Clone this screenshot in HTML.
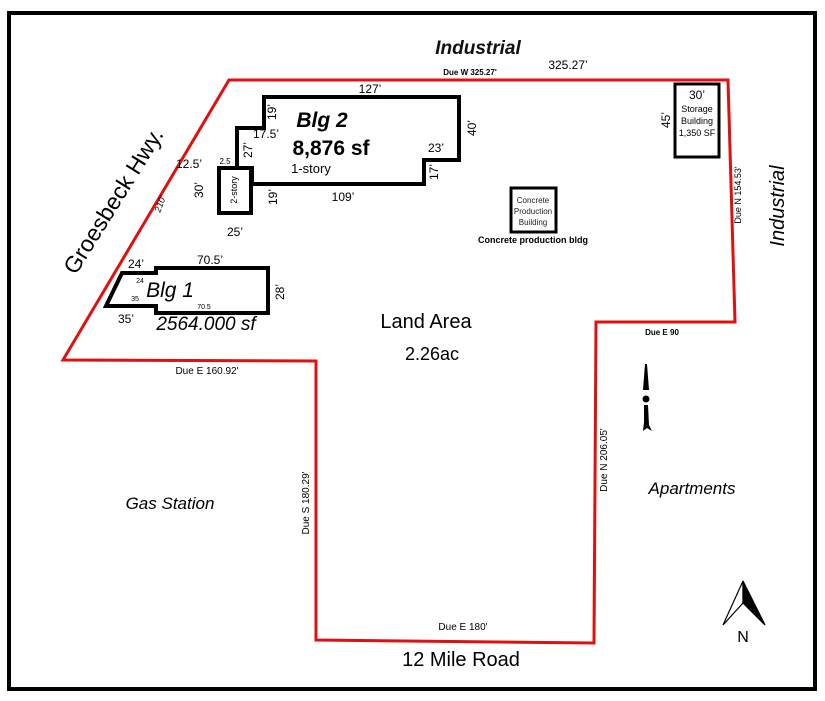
<!DOCTYPE html>
<html><head><meta charset="utf-8"><style>
html,body{margin:0;padding:0;background:#fff;}
svg{display:block;font-family:"Liberation Sans","DejaVu Sans",sans-serif;}
</style></head><body>
<svg width="825" height="701" viewBox="0 0 825 701" xmlns="http://www.w3.org/2000/svg">
<rect x="0" y="0" width="825" height="701" fill="#fff"/>
<rect x="9" y="13" width="806" height="676" fill="none" stroke="#000" stroke-width="4"/>
<polygon points="229,80 728,80 735,322 596,322 594,643 316,640 316,361 63,360" fill="none" stroke="#e01010" stroke-width="3"/>
<polygon points="264,97 459,97 459,160 424,160 424,184 252,184 252,168 237,168 237,128 264,128" fill="none" stroke="#000" stroke-width="4"/>
<rect x="219" y="168" width="32" height="45" fill="none" stroke="#000" stroke-width="4"/>
<polygon points="106,306 122,273 156,273 156,268 268,268 268,313 156,313 156,306" fill="none" stroke="#000" stroke-width="4"/>
<rect x="675" y="84" width="44" height="73" fill="none" stroke="#000" stroke-width="3"/>
<rect x="511" y="188" width="45" height="44" fill="none" stroke="#000" stroke-width="3"/>
<g font-size="8" text-anchor="middle" fill="#222">
<text x="533" y="203">Concrete</text><text x="533" y="214">Production</text><text x="533" y="225">Building</text>
</g>
<text x="533" y="243" font-size="9" text-anchor="middle" font-weight="bold">Concrete production bldg</text>
<text x="478" y="54" font-size="19" font-weight="bold" font-style="italic" text-anchor="middle" fill="#111">Industrial</text>
<text x="470" y="75" font-size="8" font-weight="bold" text-anchor="middle">Due W 325.27'</text>
<text x="568" y="69" font-size="12" text-anchor="middle">325.27’</text>
<text x="370" y="93" font-size="12" text-anchor="middle">127’</text>
<text x="322" y="127" font-size="21" font-style="italic" font-weight="bold" text-anchor="middle">Blg 2</text>
<text x="331" y="155" font-size="21" font-weight="bold" text-anchor="middle">8,876 sf</text>
<text x="311" y="173" font-size="13" text-anchor="middle">1-story</text>
<text x="343" y="201" font-size="12" text-anchor="middle">109’</text>
<text x="266" y="138" font-size="12" text-anchor="middle">17.5’</text>
<text x="436" y="152" font-size="12" text-anchor="middle">23’</text>
<text x="189" y="168" font-size="12" text-anchor="middle">12.5’</text>
<text x="225" y="164" font-size="8" text-anchor="middle">2.5</text>
<text x="235" y="236" font-size="12" text-anchor="middle">25’</text>
<g font-size="12" text-anchor="middle">
<text transform="translate(476,128) rotate(-90)">40’</text>
<text transform="translate(438,172) rotate(-90)">17’</text>
<text transform="translate(276,112) rotate(-90)">19’</text>
<text transform="translate(252,150) rotate(-90)">27’</text>
<text transform="translate(203,190) rotate(-90)">30’</text>
<text transform="translate(277,197) rotate(-90)">19’</text>
<text transform="translate(670,120) rotate(-90)">45’</text>
</g>
<text transform="translate(237,190) rotate(-90)" font-size="9" text-anchor="middle">2-story</text>
<text x="697" y="99" font-size="12" text-anchor="middle">30’</text>
<g font-size="9" text-anchor="middle"><text x="697" y="112">Storage</text><text x="697" y="124">Building</text><text x="697" y="136">1,350 SF</text></g>
<text transform="translate(741,195) rotate(-90)" font-size="9" text-anchor="middle">Due N  154.53'</text>
<text transform="translate(784,206) rotate(-90)" font-size="20" font-style="italic" text-anchor="middle">Industrial</text>
<text x="662" y="335" font-size="8" font-weight="bold" text-anchor="middle">Due E  90</text>
<text transform="translate(120,205) rotate(-58)" font-size="23" text-anchor="middle">Groesbeck Hwy.</text>
<text transform="translate(163,205) rotate(-70)" font-size="9" font-style="italic" text-anchor="middle">210'</text>
<text x="136" y="268" font-size="12" text-anchor="middle">24’</text>
<text x="210" y="264" font-size="12" text-anchor="middle">70.5’</text>
<text x="170" y="297" font-size="21" font-style="italic" text-anchor="middle">Blg 1</text>
<text x="126" y="323" font-size="12" text-anchor="middle">35’</text>
<text x="206" y="330" font-size="19" font-style="italic" text-anchor="middle">2564.000 sf</text>
<text x="140" y="283" font-size="7" text-anchor="middle">24</text>
<text x="135" y="301" font-size="7" text-anchor="middle">35</text>
<text x="204" y="309" font-size="7" text-anchor="middle">70.5</text>
<text transform="translate(284,292) rotate(-90)" font-size="12" text-anchor="middle">28’</text>
<text x="426" y="328" font-size="20" text-anchor="middle">Land Area</text>
<text x="432" y="360" font-size="18" text-anchor="middle">2.26ac</text>
<text x="207" y="374" font-size="10" text-anchor="middle">Due E  160.92'</text>
<text transform="translate(309,503) rotate(-90)" font-size="10" text-anchor="middle">Due S  180.29'</text>
<text transform="translate(607,460) rotate(-90)" font-size="10" text-anchor="middle">Due N  206.05'</text>
<text x="170" y="509" font-size="17" font-style="italic" text-anchor="middle">Gas Station</text>
<text x="692" y="494" font-size="17" font-style="italic" text-anchor="middle">Apartments</text>
<text x="463" y="630" font-size="10" text-anchor="middle">Due E  180'</text>
<text x="461" y="666" font-size="20" text-anchor="middle">12 Mile Road</text>
<path d="M645,364 L647,364 L649,390 L643,390 Z" fill="#000"/>
<circle cx="646" cy="399" r="3.5" fill="#000"/>
<path d="M644,405 L648,405 L649,425 L652,431 L647,428 L643,431 L644,422 Z" fill="#000"/>
<polygon points="743,581 723,625 743,603" fill="#fff" stroke="#000" stroke-width="1.2"/>
<polygon points="743,581 765,625 743,603" fill="#000" stroke="#000" stroke-width="1.2"/>
<text x="743" y="642" font-size="16" text-anchor="middle">N</text>
</svg>
</body></html>
